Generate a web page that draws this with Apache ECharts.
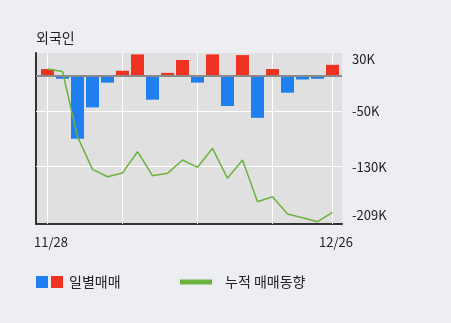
<!DOCTYPE html>
<html>
<head>
<meta charset="utf-8">
<style>
  html, body { margin: 0; padding: 0; background: #edeef2; }
  #chart { width: 451px; height: 323px; }
</style>
<script src="https://cdn.jsdelivr.net/npm/echarts@6/dist/echarts.min.js"></script>
</head>
<body>
<div id="chart"></div>
<script>
// Foreign investor net trading, in thousands of shares
const dates = ['11/28','11/29','12/2','12/3','12/4','12/5','12/6','12/9','12/10','12/11',
               '12/12','12/13','12/16','12/17','12/18','12/19','12/20','12/23','12/24','12/26'];
const dailyNet = [10, -4, -90, -45, -9.5, 7.5, 31, -34, 4.5, 23,
                  -9.5, 31, -43, 30, -60, 10, -24, -5, -4, 16];
const cumulativeNet = [10, 6.5, -87, -134, -144.5, -139, -108.6, -143, -139.6, -120.5,
                       -131, -103.7, -146.8, -120.5, -180.3, -173.2, -198, -203.3, -209, -195.6];
const yTickValues = [30, -50, -130, -209];
const xTickIndices = [0, dates.length - 1];
const gridIndices = [0, 5, 10, 15, 19];
const hGridValues = [-50, -130];

const BLUE = '#1f7ef0';
const RED = '#ee3322';
const GREEN = '#6cb33e';
const FONT = '"Noto Sans CJK KR", "Noto Sans", sans-serif';

const chart = echarts.init(document.getElementById('chart'), null, { renderer: 'canvas' });

const gridLines = gridIndices.map(i => ({ xAxis: i }))
  .concat(hGridValues.map(v => ({ yAxis: v })));

chart.setOption({
  animation: false,
  backgroundColor: '#edeef2',
  title: {
    text: '외국인',
    left: 36, top: 31, padding: 0,
    textStyle: { fontFamily: FONT, fontSize: 14, fontWeight: 'normal', color: '#222' }
  },
  legend: [
    {
      left: 36, top: 275, padding: 0,
      itemWidth: 27, itemHeight: 12,
      itemGap: 10,
      textStyle: { fontFamily: FONT, fontSize: 14, color: '#222', padding: [0, 0, 0, 1] },
      data: [{
        name: '일별매매',
        icon: 'path://M0,0h12v12h-12z M15,0h12v12h-12z',
        itemStyle: {
          color: {
            type: 'linear', x: 0, y: 0, x2: 1, y2: 0,
            colorStops: [
              { offset: 0, color: BLUE }, { offset: 0.5, color: BLUE },
              { offset: 0.5, color: RED }, { offset: 1, color: RED }
            ]
          }
        }
      }]
    },
    {
      left: 180, top: 275, padding: 0,
      itemWidth: 32, itemHeight: 5,
      itemGap: 10,
      textStyle: { fontFamily: FONT, fontSize: 14, color: '#222', padding: [0, 0, 0, 8] },
      data: [{ name: '누적 매매동향', icon: 'rect', itemStyle: { color: GREEN } }]
    }
  ],
  grid: {
    left: 36, right: 109, top: 53, bottom: 99,
    show: true, backgroundColor: '#e0e0e0', borderWidth: 0
  },
  xAxis: {
    type: 'value',
    min: -0.767, max: 19.633,
    axisLine: { show: true, onZero: false, lineStyle: { color: '#333', width: 2 } },
    axisTick: { show: false },
    splitLine: { show: false },
    axisLabel: {
      customValues: xTickIndices,
      formatter: v => dates[v],
      margin: 12,
      padding: [0, 0, 0, 7],
      fontFamily: FONT, fontSize: 13, color: '#222'
    }
  },
  yAxis: [
    {
      type: 'value',
      position: 'right',
      min: -212.3, max: 33,
      axisLine: { show: false },
      axisTick: { show: false },
      splitLine: { show: false },
      axisLabel: {
        customValues: yTickValues,
        margin: 10,
        fontFamily: FONT, fontSize: 13, color: '#222',
        formatter: v => {
          const t = v + 'K';
          if (v === yTickValues[0]) return '{lo|' + t + '}';
          if (v === yTickValues[yTickValues.length - 1]) return '{hi|' + t + '}';
          return t;
        },
        rich: {
          lo: { fontFamily: FONT, fontSize: 13, color: '#222', padding: [7, 0, 0, 0] },
          hi: { fontFamily: FONT, fontSize: 13, color: '#222', padding: [0, 0, 14, 0] }
        }
      }
    },
    {
      type: 'value',
      position: 'left',
      min: -212.3, max: 33,
      axisLine: { show: true, onZero: false, lineStyle: { color: '#333', width: 2 } },
      axisTick: { show: false },
      axisLabel: { show: false },
      splitLine: { show: false }
    }
  ],
  series: [
    {
      name: '일별매매',
      type: 'bar',
      barWidth: 13,
      z: 2,
      data: dailyNet.map((v, i) => [i, v]),
      itemStyle: { color: p => (p.value[1] >= 0 ? RED : BLUE) },
      markLine: {
        silent: true, symbol: 'none', z: 1,
        label: { show: false },
        lineStyle: { color: '#ffffff', width: 1, type: 'solid' },
        data: gridLines
      }
    },
    {
      name: 'zero',
      type: 'line',
      data: [],
      markLine: {
        silent: true, symbol: 'none', z: 3,
        label: { show: false },
        lineStyle: { color: '#8a8a8a', width: 2, type: 'solid' },
        data: [{ yAxis: 0 }]
      }
    },
    {
      name: '누적 매매동향',
      type: 'line',
      z: 4,
      data: cumulativeNet.map((v, i) => [i, v]),
      showSymbol: false,
      symbol: 'none',
      lineStyle: { color: GREEN, width: 1.5 },
      itemStyle: { color: GREEN }
    }
  ]
});
</script>
</body>
</html>
